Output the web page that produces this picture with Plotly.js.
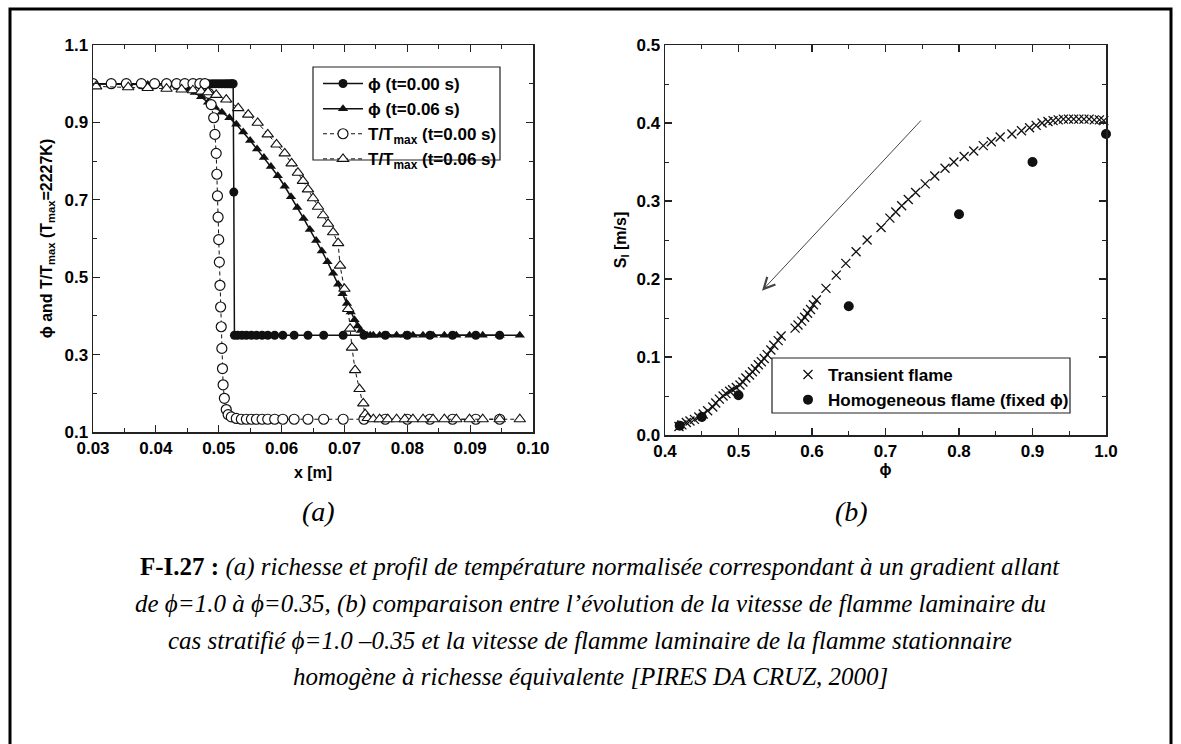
<!DOCTYPE html>
<html>
<head>
<meta charset="utf-8">
<script src="https://cdn.plot.ly/plotly-3.0.1.min.js"></script>
<style>
html,body{margin:0;padding:0;background:#ffffff;}
#chart{width:1181px;height:744px;}
</style>
</head>
<body>
<div id="chart"></div>
<script>
// ---------- Panel (a): phi and T/Tmax profiles ----------
const phi0_x = [0.0300,0.0329,0.0353,0.0377,0.0398,0.0417,0.0433,0.0446,0.0459,0.0470,0.0478,0.0484,0.0490,0.0495,0.0500,0.0505,0.0510,0.0514,0.0518,0.0521,0.0523,0.0524,0.0525,0.0530,0.0537,0.0544,0.0552,0.0560,0.0569,0.0578,0.0589,0.0602,0.0620,0.0642,0.0667,0.0698,0.0731,0.0765,0.0800,0.0836,0.0872,0.0909,0.0947];
const phi0_y = [1.000,1.000,1.000,1.000,1.000,1.000,1.000,1.000,1.000,1.000,1.000,1.000,1.000,1.000,1.000,1.000,1.000,1.000,1.000,1.000,1.000,0.720,0.350,0.350,0.350,0.350,0.350,0.350,0.350,0.350,0.350,0.350,0.350,0.350,0.350,0.350,0.350,0.350,0.350,0.350,0.350,0.350,0.350];

const phi6_x = [0.0305,0.0356,0.0387,0.0417,0.0441,0.0452,0.0462,0.0472,0.0483,0.0494,0.0505,0.0517,0.0528,0.0539,0.0550,0.0561,0.0572,0.0583,0.0594,0.0605,0.0615,0.0625,0.0635,0.0645,0.0655,0.0664,0.0673,0.0682,0.0690,0.0697,0.0704,0.0710,0.0716,0.0721,0.0726,0.0731,0.0736,0.0741,0.0746,0.0756,0.0769,0.0783,0.0796,0.0809,0.0825,0.0841,0.0859,0.0878,0.0899,0.0920,0.0947,0.0979];
const phi6_y = [0.999,0.999,0.998,0.996,0.992,0.986,0.977,0.966,0.952,0.939,0.926,0.912,0.895,0.875,0.853,0.831,0.809,0.786,0.762,0.735,0.708,0.680,0.652,0.623,0.595,0.568,0.540,0.510,0.482,0.457,0.432,0.410,0.390,0.374,0.362,0.354,0.350,0.350,0.350,0.350,0.350,0.350,0.350,0.350,0.350,0.350,0.350,0.350,0.350,0.350,0.350,0.350];

const T0_x = [0.0300,0.0329,0.0353,0.0377,0.0398,0.0417,0.0433,0.0446,0.0459,0.0470,0.0478,0.0484,0.0488,0.0492,0.0494,0.0496,0.0497,0.0498,0.0499,0.0500,0.0501,0.0502,0.0503,0.0504,0.0505,0.0506,0.0507,0.0509,0.0512,0.0515,0.0520,0.0528,0.0536,0.0544,0.0552,0.0560,0.0569,0.0578,0.0589,0.0602,0.0620,0.0642,0.0667,0.0698,0.0731,0.0765,0.0800,0.0836,0.0872,0.0909,0.0947];
const T0_y = [1.000,1.000,1.000,1.000,1.000,1.000,1.000,1.000,1.000,1.000,1.000,0.975,0.946,0.912,0.869,0.820,0.766,0.710,0.655,0.597,0.539,0.479,0.423,0.372,0.316,0.264,0.222,0.187,0.158,0.145,0.139,0.135,0.133,0.133,0.133,0.133,0.133,0.133,0.133,0.133,0.133,0.133,0.133,0.133,0.133,0.133,0.133,0.133,0.133,0.133,0.133];

const T6_x = [0.0305,0.0356,0.0387,0.0417,0.0441,0.0459,0.0472,0.0483,0.0496,0.0512,0.0531,0.0547,0.0562,0.0578,0.0592,0.0605,0.0616,0.0626,0.0634,0.0642,0.0650,0.0658,0.0666,0.0674,0.0682,0.0690,0.0693,0.0700,0.0706,0.0709,0.0712,0.0717,0.0724,0.0730,0.0733,0.0737,0.0746,0.0756,0.0769,0.0783,0.0796,0.0809,0.0825,0.0841,0.0859,0.0878,0.0899,0.0920,0.0947,0.0979];
const T6_y = [0.993,0.991,0.989,0.987,0.985,0.983,0.980,0.978,0.971,0.959,0.937,0.920,0.899,0.869,0.843,0.820,0.794,0.770,0.749,0.727,0.704,0.682,0.660,0.638,0.616,0.588,0.530,0.470,0.418,0.367,0.318,0.260,0.211,0.174,0.146,0.136,0.133,0.133,0.133,0.133,0.133,0.133,0.133,0.133,0.133,0.133,0.133,0.133,0.133,0.133];

const legendA = ['\u03D5 (t=0.00 s)','\u03D5 (t=0.06 s)','T/T<sub>max</sub> (t=0.00 s)','T/T<sub>max</sub> (t=0.06 s)'];

// ---------- Panel (b): laminar flame speed ----------
const trans_phi = [0.419,0.423,0.429,0.434,0.440,0.446,0.452,0.458,0.465,0.469,0.474,0.479,0.483,0.488,0.492,0.497,0.502,0.506,0.510,0.515,0.519,0.523,0.527,0.531,0.535,0.539,0.544,0.548,0.554,0.558,0.577,0.581,0.586,0.590,0.594,0.598,0.602,0.606,0.619,0.633,0.646,0.660,0.675,0.694,0.706,0.714,0.722,0.731,0.741,0.754,0.767,0.781,0.793,0.807,0.820,0.833,0.844,0.856,0.872,0.885,0.896,0.905,0.913,0.921,0.928,0.935,0.942,0.949,0.956,0.963,0.970,0.977,0.984,0.991,0.997];
const trans_S = [0.011,0.013,0.016,0.018,0.020,0.023,0.027,0.031,0.036,0.041,0.046,0.050,0.053,0.056,0.058,0.061,0.064,0.068,0.073,0.077,0.081,0.085,0.090,0.094,0.098,0.103,0.109,0.115,0.121,0.127,0.137,0.141,0.146,0.151,0.156,0.161,0.167,0.173,0.188,0.205,0.220,0.235,0.250,0.266,0.278,0.286,0.294,0.302,0.311,0.322,0.332,0.342,0.350,0.357,0.364,0.371,0.376,0.382,0.386,0.390,0.394,0.397,0.400,0.402,0.403,0.404,0.405,0.405,0.405,0.405,0.405,0.405,0.404,0.404,0.403];
const homog_phi = [0.42,0.45,0.50,0.65,0.80,0.90,1.00];
const homog_S = [0.012,0.023,0.051,0.165,0.283,0.350,0.386];
const legendB = ['Transient flame','Homogeneous flame (fixed \u03D5)'];

// ---------- layout helpers (pixel -> paper) ----------
const W = 1181, H = 744;
const fx = p => p / W;
const fy = p => 1 - p / H;
const SANS = 'Liberation Sans, Arial, Helvetica, sans-serif';
const SERIF = 'Liberation Serif, Times New Roman, serif';
const INK = '#111111';

const traces = [
  {x: phi0_x, y: phi0_y, xaxis:'x', yaxis:'y', name: legendA[0], legend:'legend', mode:'lines+markers',
   line:{color:INK, width:1.5}, marker:{symbol:'circle', size:9, color:INK}},
  {x: phi6_x, y: phi6_y, xaxis:'x', yaxis:'y', name: legendA[1], legend:'legend', mode:'lines+markers',
   line:{color:INK, width:1.5}, marker:{symbol:'triangle-up', size:9, color:INK}},
  {x: T0_x, y: T0_y, xaxis:'x', yaxis:'y', name: legendA[2], legend:'legend', mode:'lines+markers',
   line:{color:INK, width:1, dash:'4px,3px'}, marker:{symbol:'circle', size:10, color:'#ffffff', line:{color:INK, width:1.2}}},
  {x: T6_x, y: T6_y, xaxis:'x', yaxis:'y', name: legendA[3], legend:'legend', mode:'lines+markers',
   line:{color:INK, width:1, dash:'4px,3px'}, marker:{symbol:'triangle-up', size:10, color:'#ffffff', line:{color:INK, width:1.1}}},
  {x: trans_phi, y: trans_S, xaxis:'x2', yaxis:'y2', name: legendB[0], legend:'legend2', mode:'markers', cliponaxis:false,
   marker:{symbol:'x-thin-open', size:9, color:INK, line:{color:INK, width:1.3}}},
  {x: homog_phi, y: homog_S, xaxis:'x2', yaxis:'y2', name: legendB[1], legend:'legend2', mode:'markers', cliponaxis:false,
   marker:{symbol:'circle', size:10, color:INK}}
];

function axisCommon(extra){
  return Object.assign({
    showline:true, linecolor:'#222', linewidth:1.5, mirror:'allticks',
    ticks:'inside', ticklen:7, tickwidth:1.2, tickcolor:'#222',
    showgrid:false, zeroline:false,
    tickfont:{family:SANS, size:17, color:'#000', weight:'bold'}
  }, extra);
}

const layout = {
  width: W, height: H,
  margin:{l:0, r:0, t:0, b:0},
  paper_bgcolor:'#ffffff', plot_bgcolor:'#ffffff',
  font:{family:SANS, color:'#000', size:14},
  xaxis: axisCommon({domain:[fx(93), fx(533)], range:[0.03,0.10], anchor:'y', dtick:0.01, tick0:0.03, tickformat:'.2f',
    minor:{ticks:'inside', ticklen:4, dtick:0.005, tick0:0.03, tickcolor:'#222', tickwidth:1},
    title:{text:'<b>x [m]</b>', font:{family:SANS, size:16, color:'#000'}, standoff:10}}),
  yaxis: axisCommon({domain:[fy(432), fy(45)], range:[0.1,1.1], anchor:'x', dtick:0.2, tick0:0.1, tickformat:'.1f',
    minor:{ticks:'inside', ticklen:4, dtick:0.1, tick0:0.1, tickcolor:'#222', tickwidth:1},
    title:{text:'<b>\u03D5 and T/T<sub>max</sub> (T<sub>max</sub>=2227K)</b>', font:{family:SANS, size:16, color:'#000'}, standoff:8}}),
  xaxis2: axisCommon({domain:[fx(665), fx(1106)], range:[0.4,1.0], anchor:'y2', dtick:0.1, tick0:0.4, tickformat:'.1f',
    minor:{ticks:'inside', ticklen:4, dtick:0.05, tick0:0.4, tickcolor:'#222', tickwidth:1},
    title:{text:'<b>\u03D5</b>', font:{family:SANS, size:16, color:'#000'}, standoff:2}}),
  yaxis2: axisCommon({domain:[fy(435), fy(45)], range:[0,0.5], anchor:'x2', dtick:0.1, tick0:0, tickformat:'.1f',
    minor:{ticks:'inside', ticklen:4, dtick:0.05, tick0:0, tickcolor:'#222', tickwidth:1},
    title:{text:'<b>S<sub>l</sub> [m/s]</b>', font:{family:SANS, size:16, color:'#000'}, standoff:6}}),
  showlegend:true,
  legend:{x:fx(318), y:fy(66), xanchor:'left', yanchor:'top', bgcolor:'rgba(0,0,0,0)', borderwidth:0,
    itemwidth:40, font:{family:SANS, size:17, color:'#000', weight:'bold'}, tracegroupgap:0},
  legend2:{x:fx(788), y:fy(357), xanchor:'left', yanchor:'top', bgcolor:'rgba(0,0,0,0)', borderwidth:0,
    itemwidth:30, font:{family:SANS, size:17, color:'#000', weight:'bold'}, tracegroupgap:0},
  shapes:[
    {type:'rect', xref:'paper', yref:'paper', x0:fx(10), x1:fx(1171), y0:-0.05, y1:fy(9), line:{color:'#000', width:3}, fillcolor:'rgba(0,0,0,0)'},
    {type:'rect', xref:'paper', yref:'paper', x0:fx(313), x1:fx(500), y0:fy(160), y1:fy(67), line:{color:'#222', width:1.2}},
    {type:'rect', xref:'paper', yref:'paper', x0:fx(772), x1:fx(1070), y0:fy(413), y1:fy(358), line:{color:'#222', width:1.2}}
  ],
  annotations:[
    {xref:'x2', yref:'y2', x:0.532, y:0.185, axref:'x2', ayref:'y2', ax:0.75, ay:0.405, text:'', showarrow:true,
     arrowhead:5, arrowsize:2.2, arrowwidth:1, arrowcolor:'#444', standoff:0},
    {xref:'paper', yref:'paper', x:fx(300), y:fy(529), text:'<i>(a)</i>', showarrow:false, font:{family:SERIF, size:28, color:'#000'}},
    {xref:'paper', yref:'paper', x:fx(870), y:fy(529), text:'<i>(b)</i>', showarrow:false, font:{family:SERIF, size:28, color:'#000'}},
    {xref:'paper', yref:'paper', x:fx(600), y:fy(583), text:'<b>F-I.27 :</b> <i>(a) richesse et profil de température normalisée correspondant à un gradient allant</i>', showarrow:false, font:{family:SERIF, size:25, color:'#000'}},
    {xref:'paper', yref:'paper', x:fx(590), y:fy(620), text:'<i>de \u03D5=1.0 à \u03D5=0.35, (b) comparaison entre l\u2019évolution de la vitesse de flamme laminaire du</i>', showarrow:false, font:{family:SERIF, size:25, color:'#000'}},
    {xref:'paper', yref:'paper', x:fx(590), y:fy(656), text:'<i>cas stratifié \u03D5=1.0 \u20130.35 et la vitesse de flamme laminaire de la flamme stationnaire</i>', showarrow:false, font:{family:SERIF, size:25, color:'#000'}},
    {xref:'paper', yref:'paper', x:fx(590), y:fy(692), text:'<i>homogène à richesse équivalente [PIRES DA CRUZ, 2000]</i>', showarrow:false, font:{family:SERIF, size:25, color:'#000'}}
  ]
};

Plotly.newPlot('chart', traces, layout, {displayModeBar:false, staticPlot:true});
</script>
</body>
</html>
